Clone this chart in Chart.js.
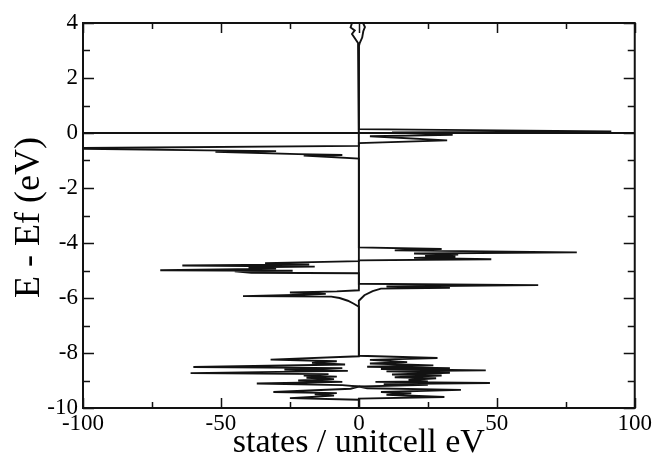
<!DOCTYPE html>
<html>
<head>
<meta charset="utf-8">
<script src="https://cdn.jsdelivr.net/npm/chart.js@4.4.0/dist/chart.umd.min.js"></script>
<style>
html,body{margin:0;padding:0;background:#fff;}
#wrap{width:654px;height:462px;}
</style>
</head>
<body>
<div id="wrap"><canvas id="c" width="654" height="462"></canvas></div>
<script>
// ---- data (energy in eV relative to Ef, states / unitcell eV) ----
const upEnergy = [4.0, 3.85, 3.7, 3.47, 3.27, 3.15,
  0.14, 0.06, 0.02, -0.07, -0.12, -0.27, -0.37,
  -4.16, -4.22, -4.27, -4.34, -4.38, -4.42, -4.47, -4.5, -4.54, -4.59, -4.63,
  -5.48, -5.53, -5.58, -5.63, -5.66, -5.75, -5.9, -6.1,
  -8.1, -8.18, -8.25, -8.33, -8.38, -8.45, -8.5, -8.55, -8.58, -8.63, -8.67, -8.72, -8.78, -8.82, -8.88, -8.92, -8.98, -9.03, -9.05, -9.09, -9.13, -9.16, -9.22, -9.28, -9.34, -9.42, -9.47, -9.52, -9.6, -9.66,
  -10.0];
const upStates = [1.5, 2.2, 1.6, 1.2, 0.3, 0,
  0, 91.5, 12, 34, 4, 32, 0,
  0, 30, 13, 79, 20, 36, 24, 35, 20, 48, 0,
  0, 65, 10, 33, 8, 5, 2, 0,
  0, 28.5, 4, 17.5, 4, 27, 3, 33, 8, 46, 10, 33, 12, 30, 13, 28, 18, 25, 6, 47.5, 9, 25, 0, 3, 37, 8, 19, 10, 31, 0,
  0];

const downEnergy = [4.0, 3.84, 3.73, 3.6, 3.27, 3.15,
  -0.47, -0.55, -0.57, -0.63, -0.66, -0.68, -0.77, -0.8, -0.82, -0.93,
  -4.66, -4.73, -4.78, -4.82, -4.86, -4.88, -4.93, -4.99, -5.01, -5.03, -5.08, -5.1,
  -5.72, -5.76, -5.8, -5.85, -5.88, -5.93, -5.95, -6.0, -6.1, -6.2, -6.32,
  -8.12, -8.24, -8.3, -8.36, -8.42, -8.51, -8.55, -8.6, -8.65, -8.73, -8.77, -8.82, -8.86, -8.9, -8.95, -9.0, -9.05, -9.11, -9.17, -9.22, -9.3, -9.42, -9.46, -9.5, -9.55, -9.64, -9.7,
  -10.0];
const downStates = [-2.5, -3, -1.5, -2.5, -0.3, 0,
  0, -110, -100, -55, -30, -52, -22, -6, -20, 0,
  0, -34, -18, -64, -16, -40, -30, -72, -24, -45, -39, 0,
  0, -8, -25, -12, -20, -42, -10, -7, -4, -2, 0,
  0, -32, -8, -17, -5, -60, -6, -27, -4, -61, -11, -20, -8, -19, -9, -22, -6, -37, -6, 0, -3, -31, -8, -16, -9, -25, 0,
  0];

const fermiStates = [-100, 100];
const fermiEnergy = [0, 0];

const xTickValues = [-100, -50, 0, 50, 100];
const yTickValues = [-10, -8, -6, -4, -2, 0, 2, 4];

const toPts = (xs, ys) => xs.map((v, i) => ({x: v, y: ys[i]}));

const INK = '#121212';
const SERIF = '"Liberation Serif", "Times New Roman", serif';

const decor = {
  id: 'decor',
  afterDatasetsDraw(chart) {
    const {ctx, chartArea: {left, right, top, bottom}, scales: {x, y}} = chart;
    ctx.save();
    ctx.strokeStyle = INK;
    ctx.lineWidth = 1.5;
    ctx.beginPath();
    const xMin = xTickValues[0], xMax = xTickValues[xTickValues.length - 1];
    for (let v = xMin; v <= xMax; v += 25) {
      const px = Math.round(x.getPixelForValue(v)) + 0.5;
      const L = (v % 50 === 0) ? 10 : 6;
      ctx.moveTo(px, bottom); ctx.lineTo(px, bottom - L);
      ctx.moveTo(px, top); ctx.lineTo(px, top + L);
    }
    const yMin = yTickValues[0], yMax = yTickValues[yTickValues.length - 1];
    for (let v = yMin; v <= yMax; v += 1) {
      const py = Math.round(y.getPixelForValue(v)) + 0.5;
      const L = (v % 2 === 0) ? 11 : 7;
      ctx.moveTo(left, py); ctx.lineTo(left + L, py);
      ctx.moveTo(right, py); ctx.lineTo(right - L, py);
    }
    ctx.stroke();
    ctx.lineWidth = 2;
    ctx.strokeRect(left, top, right - left, bottom - top);
    // y axis title
    ctx.translate(30, (top + bottom) / 2 + 2);
    ctx.rotate(-Math.PI / 2);
    ctx.fillStyle = '#000';
    ctx.font = '36px ' + SERIF;
    ctx.textAlign = 'center';
    ctx.textBaseline = 'middle';
    ctx.fillText('E - Ef (eV)', 0, 0);
    ctx.restore();
  }
};

const lineDs = (pts) => ({
  data: pts,
  showLine: true,
  borderColor: INK,
  borderWidth: 1.9,
  pointRadius: 0,
  tension: 0,
  fill: false
});

new Chart(document.getElementById('c'), {
  type: 'scatter',
  data: {
    datasets: [
      lineDs(toPts(fermiStates, fermiEnergy)),
      lineDs(toPts(upStates, upEnergy)),
      lineDs(toPts(downStates, downEnergy))
    ]
  },
  options: {
    responsive: false,
    animation: false,
    devicePixelRatio: 1,
    layout: {padding: {top: 23, right: 19, left: 0, bottom: 0}},
    plugins: {legend: {display: false}, tooltip: {enabled: false}},
    scales: {
      x: {
        type: 'linear',
        min: xTickValues[0], max: xTickValues[xTickValues.length - 1],
        afterBuildTicks: (s) => { s.ticks = xTickValues.map(v => ({value: v})); },
        grid: {display: false, drawTicks: false},
        border: {display: false},
        ticks: {color: '#000', font: {family: SERIF, size: 23}, padding: 2, maxRotation: 0, autoSkip: false},
        title: {display: true, text: 'states / unitcell eV', color: '#000', font: {family: SERIF, size: 34}, padding: {top: 0, bottom: -1}},
        afterFit: (s) => { s.height = 54; }
      },
      y: {
        type: 'linear',
        min: yTickValues[0], max: yTickValues[yTickValues.length - 1],
        afterBuildTicks: (s) => { s.ticks = yTickValues.map(v => ({value: v})); },
        grid: {display: false, drawTicks: false},
        border: {display: false},
        ticks: {color: '#000', font: {family: SERIF, size: 23}, padding: 5, autoSkip: false},
        afterFit: (s) => { s.width = 83; }
      }
    }
  },
  plugins: [decor]
});
</script>
</body>
</html>
